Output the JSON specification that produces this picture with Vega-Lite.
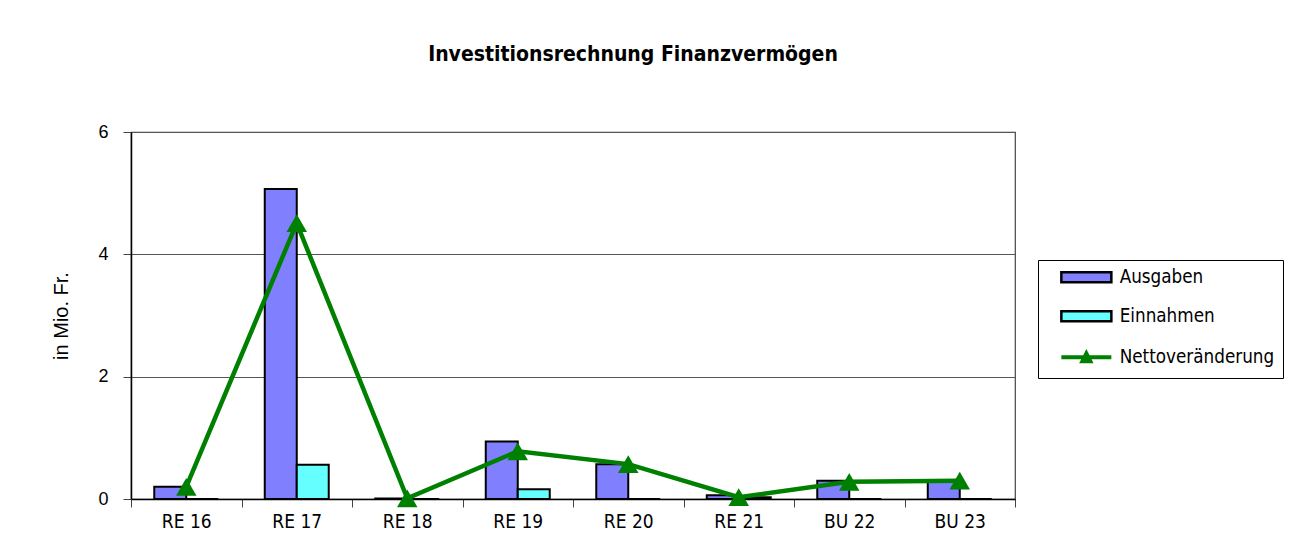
{
  "$schema": "https://vega.github.io/schema/vega-lite/v6.json",
  "autosize": {"type": "none"},
  "width": 884,
  "height": 367,
  "padding": {"left": 131, "top": 132, "right": 291, "bottom": 41},
  "background": "white",
  "title": {
    "text": "Investitionsrechnung Finanzvermögen",
    "font": "DejaVu Sans Condensed",
    "fontSize": 21,
    "fontWeight": "bold",
    "color": "black",
    "anchor": "middle",
    "frame": "group",
    "dx": 60,
    "offset": 58
  },
  "datasets": {
    "bars": [
      {"Jahr": "RE 16", "Serie": "Ausgaben", "Wert": 0.2},
      {"Jahr": "RE 16", "Serie": "Einnahmen", "Wert": 0},
      {"Jahr": "RE 17", "Serie": "Ausgaben", "Wert": 5.07},
      {"Jahr": "RE 17", "Serie": "Einnahmen", "Wert": 0.56},
      {"Jahr": "RE 18", "Serie": "Ausgaben", "Wert": 0.01},
      {"Jahr": "RE 18", "Serie": "Einnahmen", "Wert": 0},
      {"Jahr": "RE 19", "Serie": "Ausgaben", "Wert": 0.94},
      {"Jahr": "RE 19", "Serie": "Einnahmen", "Wert": 0.16},
      {"Jahr": "RE 20", "Serie": "Ausgaben", "Wert": 0.57},
      {"Jahr": "RE 20", "Serie": "Einnahmen", "Wert": 0},
      {"Jahr": "RE 21", "Serie": "Ausgaben", "Wert": 0.06},
      {"Jahr": "RE 21", "Serie": "Einnahmen", "Wert": 0.03},
      {"Jahr": "BU 22", "Serie": "Ausgaben", "Wert": 0.3},
      {"Jahr": "BU 22", "Serie": "Einnahmen", "Wert": 0},
      {"Jahr": "BU 23", "Serie": "Ausgaben", "Wert": 0.3},
      {"Jahr": "BU 23", "Serie": "Einnahmen", "Wert": 0}
    ],
    "netto": [
      {"Jahr": "RE 16", "Wert": 0.2},
      {"Jahr": "RE 17", "Wert": 4.51},
      {"Jahr": "RE 18", "Wert": 0.01},
      {"Jahr": "RE 19", "Wert": 0.78},
      {"Jahr": "RE 20", "Wert": 0.57},
      {"Jahr": "RE 21", "Wert": 0.03},
      {"Jahr": "BU 22", "Wert": 0.28},
      {"Jahr": "BU 23", "Wert": 0.3}
    ]
  },
  "encoding": {
    "x": {
      "field": "Jahr",
      "type": "nominal",
      "sort": null,
      "scale": {"paddingInner": 0, "paddingOuter": 0},
      "axis": {
        "title": null,
        "labelAngle": 0,
        "tickBand": "extent",
        "tickSize": 8,
        "tickColor": "#444",
        "domainColor": "black",
        "domainWidth": 1.5,
        "labelPadding": 5,
        "labelFont": "DejaVu Sans Condensed",
        "labelFontSize": 19,
        "labelColor": "black",
        "grid": false
      }
    },
    "y": {
      "field": "Wert",
      "type": "quantitative",
      "scale": {"domain": [0, 6], "nice": false},
      "axis": {
        "title": "in Mio. Fr.",
        "values": [0, 2, 4, 6],
        "tickSize": 8,
        "tickColor": "#444",
        "domainColor": "black",
        "domainWidth": 1.5,
        "labelPadding": 15,
        "labelFont": "Liberation Sans",
        "labelFontSize": 18,
        "labelColor": "black",
        "titleFont": "Liberation Sans",
        "titleFontSize": 20,
        "titleFontWeight": "normal",
        "titleColor": "black",
        "titlePadding": 26,
        "grid": true,
        "gridColor": "#555",
        "gridWidth": 1.2
      }
    }
  },
  "layer": [
    {
      "data": {"name": "bars"},
      "mark": {"type": "bar", "stroke": "black", "strokeWidth": 2},
      "encoding": {
        "xOffset": {"field": "Serie", "type": "nominal", "scale": {"paddingOuter": 0.727, "paddingInner": 0}},
        "color": {
          "field": "Serie",
          "type": "nominal",
          "scale": {"domain": ["Ausgaben", "Einnahmen", "Nettoveränderung"], "range": ["#8080FF", "#66FFFF", "#008000"]},
          "legend": {
            "title": null,
            "orient": "none",
            "legendX": 907,
            "legendY": 128,
            "padding": 8,
            "strokeColor": "black",
            "symbolSize": 400,
            "symbolType": "M0.6,-0.5H5.6V0.5H0.6Z",
            "symbolStrokeColor": "black",
            "symbolStrokeWidth": 2,
            "symbolOpacity": 1,
            "labelOffset": 55,
            "rowPadding": 18,
            "labelFontSize": 18.7,
            "labelColor": "black",
            "labelFont": "DejaVu Sans Condensed",
            "encode": {
              "symbols": {
                "update": {
                  "shape": {"signal": "datum.value === 'Nettoveränderung' ? 'M0.6,0H5.6M2.7,0.4L3.1,-0.4L3.5,0.4Z' : 'M0.6,-0.5H5.6V0.5H0.6Z'"},
                  "fill": {"signal": "datum.value === 'Nettoveränderung' ? '#008000' : (datum.value === 'Einnahmen' ? '#66FFFF' : '#8080FF')"},
                  "stroke": {"signal": "datum.value === 'Nettoveränderung' ? '#008000' : '#000000'"},
                  "strokeWidth": {"signal": "datum.value === 'Nettoveränderung' ? 4 : 2.5"},
                  "strokeOpacity": {"value": 1},
                  "fillOpacity": {"value": 1}
                }
              }
            }
          }
        }
      }
    },
    {
      "data": {"name": "netto"},
      "mark": {"type": "line", "strokeWidth": 4.5, "color": "#008000"},
      "encoding": {}
    },
    {
      "data": {"name": "netto"},
      "mark": {"type": "point", "shape": "triangle-up", "filled": true, "size": 420, "opacity": 1, "color": "#008000"},
      "encoding": {}
    }
  ],
  "config": {
    "font": "DejaVu Sans Condensed",
    "view": {"stroke": "#444", "strokeWidth": 1.2}
  }
}
